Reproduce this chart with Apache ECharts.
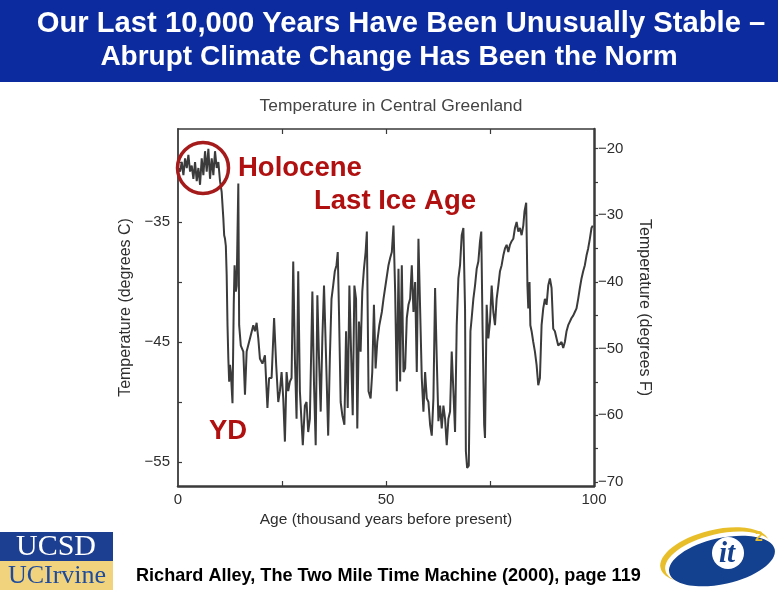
<!DOCTYPE html>
<html><head><meta charset="utf-8">
<script src="https://cdn.jsdelivr.net/npm/echarts@6/dist/echarts.min.js"></script>
<style>html,body{margin:0;padding:0;background:#fff}#c{width:778px;height:590px}</style>
</head><body><div id="c"></div>
<script>
// [age (thousand years before present), temperature (deg C)]
const greenlandRecord = [
[0.2,-30.5],[0.5,-30.8],[0.9,-30.0],[1.3,-31.1],[1.7,-29.7],[2.1,-30.5],[2.5,-29.4],[2.9,-30.8],[3.3,-30.3],[3.7,-31.4],
[4.1,-30.0],[4.5,-31.6],[4.9,-30.5],[5.3,-31.9],[5.7,-29.7],[6.1,-31.1],[6.5,-29.1],[6.9,-30.8],[7.3,-28.9],[7.7,-31.4],
[8.1,-29.7],[8.5,-31.1],[8.9,-29.1],[9.3,-30.5],[9.7,-30.0],[10.1,-31.6],
[10.5,-32.5],[10.9,-34.7],[11.1,-36.1],[11.3,-36.4],[11.5,-37.0],[11.7,-39.4],[11.9,-43.6],[12.1,-46.4],[12.3,-48.3],[12.5,-46.9],
[12.7,-47.5],[13.1,-50.1],[13.4,-41.9],[13.6,-38.6],[13.9,-40.8],[14.1,-40.3],[14.5,-31.8],[14.7,-43.6],[15.1,-45.3],[15.7,-45.8],
[16.1,-49.4],[16.5,-45.8],[17.3,-44.7],[18.1,-43.6],[18.5,-44.1],[18.9,-43.4],[19.3,-44.7],[19.7,-46.4],[20.3,-46.8],[20.9,-46.1],
[21.5,-50.5],[21.9,-48.0],[22.5,-48.0],[23.1,-43.0],[23.6,-46.9],[24.1,-50.0],[24.5,-49.1],[24.9,-47.5],[25.3,-49.7],[25.7,-53.3],
[26.1,-47.5],[26.5,-49.1],[26.9,-48.3],[27.3,-48.0],[27.7,-38.3],[28.1,-46.4],[28.5,-51.4],[28.9,-39.1],[29.3,-49.1],[30.0,-53.6],
[30.5,-50.3],[30.9,-50.0],[31.3,-52.5],[31.7,-51.4],[32.3,-40.8],[32.7,-48.6],[33.1,-53.6],[33.5,-41.1],[33.9,-46.4],[34.3,-50.8],
[34.7,-44.7],[35.1,-40.3],[35.6,-46.4],[36.1,-52.8],[36.5,-46.4],[36.9,-41.4],[37.3,-40.3],[37.7,-39.1],[38.1,-38.6],[38.4,-37.5],
[38.7,-42.5],[39.1,-50.0],[39.5,-51.1],[40.0,-51.9],[40.4,-44.1],[40.8,-50.5],[41.2,-40.3],[41.6,-45.8],[42.0,-51.1],[42.4,-40.3],
[42.8,-41.4],[43.1,-52.2],[43.5,-43.3],[43.9,-45.8],[44.3,-40.8],[44.7,-38.9],[45.1,-37.5],[45.4,-35.8],[45.8,-49.1],[46.3,-49.7],
[46.7,-47.5],[47.1,-41.9],[47.5,-47.2],[47.9,-45.0],[48.4,-43.6],[49.0,-42.5],[49.4,-41.4],[50.0,-40.0],
[50.6,-38.6],[51.0,-38.0],[51.4,-37.5],[51.8,-35.3],[52.2,-40.8],[52.6,-49.1],[53.0,-38.9],[53.4,-48.3],[53.8,-38.6],[54.2,-47.5],
[54.6,-47.2],[55.0,-43.0],[55.4,-41.9],[55.8,-41.4],[56.2,-38.6],[56.6,-42.5],[57.0,-40.0],[57.4,-47.5],[57.8,-36.4],[58.2,-42.2],
[58.6,-48.0],[59.0,-50.8],[59.4,-47.5],[59.8,-49.7],[60.2,-50.0],[60.6,-51.9],[61.0,-52.8],[61.4,-49.7],[61.8,-40.5],[62.2,-46.4],
[62.6,-51.6],[63.0,-50.3],[63.4,-52.2],[63.8,-50.3],[64.2,-51.4],[64.6,-53.6],[65.0,-51.4],[65.4,-50.8],[65.8,-45.8],[66.2,-49.1],
[66.6,-52.5],[67.0,-43.6],[67.4,-39.7],[67.8,-38.6],[68.2,-36.1],[68.6,-35.5],[69.0,-42.2],[69.2,-54.1],[69.5,-55.5],[69.9,-55.3],
[70.3,-44.1],[70.6,-43.0],[71.0,-41.4],[71.4,-40.3],[71.8,-38.9],[72.2,-38.3],[72.6,-36.6],[72.9,-35.8],[73.2,-43.6],[73.6,-51.9],
[73.8,-53.0],[74.2,-41.9],[74.6,-44.7],[75.0,-43.3],
[75.4,-40.3],[75.8,-42.5],[76.2,-43.6],[76.6,-41.4],[77.0,-40.3],[77.4,-39.1],[77.8,-38.6],[78.2,-37.8],[78.6,-37.2],[79.0,-36.9],
[79.4,-37.5],[79.8,-36.9],[80.2,-36.6],[80.6,-36.4],[81.0,-35.5],[81.4,-35.0],[81.8,-35.8],[82.2,-35.5],[82.6,-36.1],[83.0,-35.3],
[83.3,-34.1],[83.7,-33.4],[84.0,-40.3],[84.2,-42.2],[84.5,-40.0],[84.7,-43.6],[85.0,-44.1],[85.4,-45.0],[85.8,-45.8],[86.2,-46.9],
[86.6,-48.6],[87.0,-48.0],[87.4,-43.6],[87.8,-42.2],[88.2,-41.4],[88.6,-41.9],[89.0,-40.3],[89.4,-39.7],[89.8,-40.5],[90.2,-43.9],
[90.6,-44.1],[91.0,-44.7],[91.4,-45.3],[91.8,-45.3],[92.2,-45.0],[92.6,-45.5],[93.0,-45.0],[93.4,-44.1],[93.8,-43.6],[94.2,-43.3],
[94.6,-43.0],[95.0,-42.8],[95.4,-42.5],[95.8,-42.2],[96.2,-41.4],[96.6,-40.5],[97.0,-39.7],[97.4,-39.1],[97.8,-38.6],[98.2,-37.8],
[98.6,-37.2],[99.0,-36.4],[99.4,-35.5],[99.7,-35.3]
];
const ageLabels = [0, 50, 100];
const ageTicks = [25, 50, 75];
const celsiusLabels = [-55, -45, -35];
const celsiusTicks = [-55, -50, -45, -40, -35, -30];
const fahrenheitLabels = [-70, -60, -50, -40, -30, -20];
const fahrenheitTicks = [-70, -65, -60, -55, -50, -45, -40, -35, -30, -25, -20];
const C_MIN = -57.0, C_MAX = -27.25;
const toF = c => c * 1.8 + 32;

const titleLines = ['Our Last 10,000 Years Have Been Unusually Stable \u2013', 'Abrupt Climate Change Has Been the Norm'];
const chartTitle = 'Temperature in Central Greenland';
const notes = ['Holocene', 'Last Ice Age', 'YD'];
const citation = 'Richard Alley, The Two Mile Time Machine (2000), page 119';

const minus = v => String(v).replace('-', '\u2212');
const FONT = '"Liberation Sans", Arial, Helvetica, sans-serif';
const AX = '#3a3a3a';
const LBL = '#2e2e2e';

const chart = echarts.init(document.getElementById('c'), null, {renderer: 'canvas'});
chart.setOption({
  animation: false,
  backgroundColor: '#ffffff',
  textStyle: {fontFamily: FONT},
  title: {
    text: chartTitle, left: 386, top: 93, textAlign: 'center',
    textStyle: {fontSize: 17.4, fontWeight: 'normal', color: '#444', fontFamily: FONT}
  },
  grid: {left: 178, right: 184, top: 129, bottom: 104},
  xAxis: [{
    type: 'value', position: 'bottom', min: 0, max: 100,
    name: 'Age (thousand years before present)', nameLocation: 'middle', nameGap: 26,
    nameTextStyle: {fontSize: 15.5, color: LBL, fontFamily: FONT},
    axisLine: {show: true, onZero: false, lineStyle: {color: AX, width: 2.5}},
    axisTick: {show: true, inside: true, length: 5, customValues: ageTicks, lineStyle: {color: AX, width: 1.2}},
    axisLabel: {customValues: ageLabels, fontSize: 15, color: LBL, margin: 6, fontFamily: FONT},
    splitLine: {show: false}
  }, {
    type: 'value', position: 'top', min: 0, max: 100,
    axisLine: {show: true, onZero: false, lineStyle: {color: AX, width: 1.5}},
    axisTick: {show: true, inside: true, length: 5, customValues: ageTicks, lineStyle: {color: AX, width: 1.2}},
    axisLabel: {show: false},
    splitLine: {show: false}
  }],
  yAxis: [{
    type: 'value', position: 'left', min: C_MIN, max: C_MAX,
    name: 'Temperature (degrees C)', nameLocation: 'middle', nameRotate: 90, nameGap: 34,
    nameTextStyle: {fontSize: 16, color: LBL, fontFamily: FONT},
    axisLine: {show: true, onZero: false, lineStyle: {color: AX, width: 1.8}},
    axisTick: {show: true, inside: true, length: 4, customValues: celsiusTicks, lineStyle: {color: AX, width: 1.2}},
    axisLabel: {customValues: celsiusLabels, formatter: minus, fontSize: 15, color: LBL, margin: 8, fontFamily: FONT},
    splitLine: {show: false}
  }, {
    type: 'value', position: 'right', min: toF(C_MIN), max: toF(C_MAX),
    name: 'Temperature (degrees F)', nameLocation: 'middle', nameRotate: -90, nameGap: 42,
    nameTextStyle: {fontSize: 16, color: LBL, fontFamily: FONT},
    axisLine: {show: true, onZero: false, lineStyle: {color: AX, width: 2.5}},
    axisTick: {show: true, inside: false, length: 4, customValues: fahrenheitTicks, lineStyle: {color: AX, width: 1.2}},
    axisLabel: {customValues: fahrenheitLabels, formatter: minus, fontSize: 15, color: LBL, margin: 4, fontFamily: FONT},
    splitLine: {show: false}
  }],
  series: [{
    type: 'line', xAxisIndex: 0, yAxisIndex: 0,
    data: greenlandRecord, showSymbol: false, symbol: 'none',
    lineStyle: {color: '#3b3b3b', width: 2}, z: 3
  }],
  graphic: [
    {type: 'rect', left: 0, top: 0, z: 10, shape: {width: 778, height: 82}, style: {fill: '#0b2b9e'}},
    {type: 'text', x: 401, y: 24, z: 11, style: {text: titleLines[0], fill: '#fff', font: 'bold 29.2px ' + FONT, textAlign: 'center', textVerticalAlign: 'middle'}},
    {type: 'text', x: 389, y: 57, z: 11, style: {text: titleLines[1], fill: '#fff', font: 'bold 28px ' + FONT, textAlign: 'center', textVerticalAlign: 'middle'}},
    {type: 'circle', z: 12, shape: {cx: 203, cy: 168, r: 25.5}, style: {fill: 'none', stroke: '#a51a1a', lineWidth: 3.5}},
    {type: 'text', x: 238, y: 168, z: 12, style: {text: notes[0], fill: '#b01010', font: 'bold 27.5px ' + FONT, textAlign: 'left', textVerticalAlign: 'middle'}},
    {type: 'text', x: 314, y: 201, z: 12, style: {text: notes[1], fill: '#b01010', font: 'bold 27.5px ' + FONT, textAlign: 'left', textVerticalAlign: 'middle'}},
    {type: 'text', x: 209, y: 431, z: 12, style: {text: notes[2], fill: '#b01010', font: 'bold 27.5px ' + FONT, textAlign: 'left', textVerticalAlign: 'middle'}},
    {type: 'text', x: 136, y: 576, z: 12, style: {text: citation, fill: '#000', font: 'bold 18.1px ' + FONT, textAlign: 'left', textVerticalAlign: 'middle'}},
    {type: 'rect', left: 0, top: 532, z: 10, shape: {width: 113, height: 29}, style: {fill: '#1d3f92'}},
    {type: 'rect', left: 0, top: 561, z: 10, shape: {width: 113, height: 29}, style: {fill: '#f0d37c'}},
    {type: 'text', x: 56, y: 547, z: 11, style: {text: 'UCSD', fill: '#fff', font: '30px "Liberation Serif", "Times New Roman", serif', textAlign: 'center', textVerticalAlign: 'middle'}},
    {type: 'text', x: 57, y: 576, z: 11, style: {text: 'UCIrvine', fill: '#1e4b9e', font: '26px "Liberation Serif", "Times New Roman", serif', textAlign: 'center', textVerticalAlign: 'middle'}},
    {type: 'ellipse', z: 10, x: 715, y: 555, rotation: 0.24, shape: {cx: 0, cy: 0, rx: 56, ry: 25}, style: {fill: '#e8bf2a'}},
    {type: 'ellipse', z: 11, x: 719, y: 558, rotation: 0.23, shape: {cx: 0, cy: 0, rx: 55, ry: 24}, style: {fill: '#ffffff'}},
    {type: 'ellipse', z: 12, x: 722, y: 561, rotation: 0.22, shape: {cx: 0, cy: 0, rx: 54, ry: 23}, style: {fill: '#14418f'}},
    {type: 'circle', z: 13, shape: {cx: 728, cy: 553, r: 16}, style: {fill: '#ffffff'}},
    {type: 'text', x: 727, y: 555, z: 14, style: {text: 'it', fill: '#14418f', font: 'italic bold 29px "Liberation Serif", serif', textAlign: 'center', textVerticalAlign: 'middle'}},
    {type: 'text', x: 759, y: 537, z: 14, style: {text: '2', fill: '#e8bf2a', font: 'bold 14px "Liberation Sans", sans-serif', textAlign: 'center', textVerticalAlign: 'middle'}}
  ]
});
</script>
</body></html>
